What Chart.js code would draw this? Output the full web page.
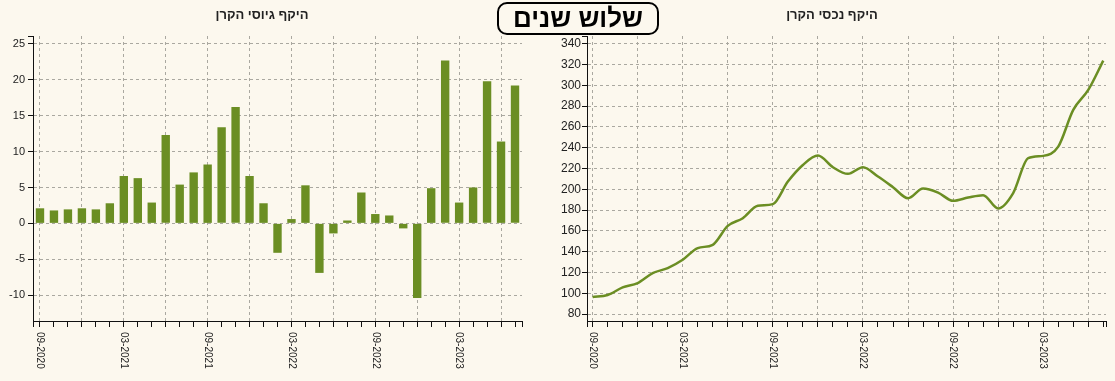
<!DOCTYPE html>
<html lang="he">
<head>
<meta charset="utf-8">
<script src="https://cdn.jsdelivr.net/npm/chart.js@4"></script>
<style>
  html, body { margin:0; padding:0; }
  body { background:#fcf8ee; width:1115px; height:381px; overflow:hidden; position:relative; font-family: Arial, "Liberation Sans", sans-serif; }
  .wrap { position:absolute; top:0; height:381px; }
  .t { position:absolute; top:6px; width:200px; text-align:center; font-weight:bold; font-size:13px; line-height:18px; color:#222; direction:rtl; }
  #box { position:absolute; left:497px; top:2px; width:158px; height:29px; line-height:29px; border:2px solid #000; border-radius:10px; background:#fcf8ee; text-align:center; font-weight:bold; font-size:26px; color:#000; direction:rtl; }
</style>
</head>
<body>
<div class="wrap" style="left:0;width:557px"><canvas id="c1" width="557" height="381"></canvas></div>
<div class="wrap" style="left:557px;width:558px"><canvas id="c2" width="558" height="381"></canvas></div>
<div class="t" style="left:162px">היקף גיוסי הקרן</div>
<div class="t" style="left:732px">היקף נכסי הקרן</div>
<div id="box">שלוש שנים</div>
<script>
// ---- data ----
const months = ['09-2020','10-2020','11-2020','12-2020','01-2021','02-2021','03-2021','04-2021','05-2021','06-2021','07-2021','08-2021',
  '09-2021','10-2021','11-2021','12-2021','01-2022','02-2022','03-2022','04-2022','05-2022','06-2022','07-2022','08-2022',
  '09-2022','10-2022','11-2022','12-2022','01-2023','02-2023','03-2023','04-2023','05-2023','06-2023','07-2023'];
const raised = [2.1, 1.8, 1.95, 2.1, 1.95, 2.8, 6.6, 6.3, 2.9, 12.3, 5.4, 7.1, 8.2, 13.4, 16.2, 6.6, 2.8, -4.1,
  0.6, 5.3, -6.9, -1.4, 0.4, 4.3, 1.3, 1.1, -0.7, -10.4, 4.9, 22.7, 2.9, 5.0, 19.8, 11.4, 19.2];
const assets = [96.3, 98.3, 105.6, 109.8, 119.4, 124.2, 132.2, 143.4, 146.6, 164.8, 172.2, 184.1, 185.7, 207.4, 223.4,
  232.4, 221.2, 214.8, 221.2, 212.2, 202, 191.4, 200.7, 196.8, 188.9, 192, 194.3, 181.5, 196.3, 229.9, 232.1, 241,
  276.3, 295.5, 323.7];
const leftYTicks = [-10, -5, 0, 5, 10, 15, 20, 25];
const rightYTicks = [80, 100, 120, 140, 160, 180, 200, 220, 240, 260, 280, 300, 320, 340];
const xLabelMonths = ['09-2020','03-2021','09-2021','03-2022','09-2022','03-2023'];
const leftYRange = [-13.6, 26.1];
const rightYRange = [73.3, 347.4];
const rightXRange = [-0.373, 34.18];

// ---- style ----
const BAR = '#6b8e23';
const LINE = '#6b8e23';
const GRID = '#aaa8a0';
const AXIS = '#111';
const TEXT = '#222';
const NONE = 'rgba(0,0,0,0)';
Chart.defaults.font.family = 'Arial, "Liberation Sans", sans-serif';

const xLabelPlugin = {
  id: 'xLabels',
  afterDraw(chart) {
    const xs = chart.scales.x;
    const ca = chart.chartArea;
    const ctx = chart.ctx;
    ctx.save();
    // outer ticks at axis ends
    ctx.strokeStyle = AXIS; ctx.lineWidth = 1;
    if (chart.config.type === 'bar') {
      [ca.left, ca.right].forEach(px => {
        const x = Math.round(px) + 0.5;
        ctx.beginPath(); ctx.moveTo(x, ca.bottom); ctx.lineTo(x, ca.bottom + 6); ctx.stroke();
      });
    }
    ctx.font = '10px Arial, "Liberation Sans", sans-serif';
    ctx.fillStyle = TEXT;
    ctx.textAlign = 'left';
    ctx.textBaseline = 'middle';
    xLabelMonths.forEach(lab => {
      const idx = months.indexOf(lab);
      const x = xs.getPixelForValue(idx);
      ctx.save();
      ctx.translate(x, ca.bottom + 11);
      ctx.rotate(Math.PI / 2);
      ctx.fillText(lab, 0, 0);
      ctx.restore();
    });
    ctx.restore();
  }
};

const common = {
  responsive: false,
  animation: false,
  devicePixelRatio: 1,
  plugins: { legend: { display: false }, tooltip: { enabled: false }, title: { display: false } },
};

new Chart(document.getElementById('c1'), {
  type: 'bar',
  data: { labels: months, datasets: [{ data: raised, backgroundColor: BAR, barPercentage: 0.6, categoryPercentage: 1 }] },
  options: Object.assign({}, common, {
    layout: { padding: { top: 36, right: 35, left: 0, bottom: 0 } },
    scales: {
      x: {
        offset: true,
        grid: { offset: false, color: c => (c.index % 3 === 0 ? GRID : NONE), tickColor: AXIS, tickLength: 6, lineWidth: 1 },
        border: { color: AXIS, width: 1, dash: [3, 3] },
        ticks: { display: false, autoSkip: false },
        afterFit: s => { s.height = 60; }
      },
      y: {
        min: leftYRange[0], max: leftYRange[1],
        afterBuildTicks: s => { s.ticks = [leftYRange[0], ...leftYTicks, leftYRange[1]].map(v => ({ value: v })); },
        grid: {
          color: c => (c.tick && leftYTicks.includes(c.tick.value) ? GRID : NONE),
          tickColor: c => (c.tick && c.tick.value === leftYRange[0] ? NONE : AXIS),
          tickLength: 5, lineWidth: 1
        },
        border: { color: AXIS, width: 1, dash: [3, 3] },
        ticks: { callback: v => (leftYTicks.includes(v) ? String(v) : ''), font: { size: 11 }, color: TEXT, padding: 3, autoSkip: false },
        afterFit: s => { s.width = 33; }
      }
    }
  }),
  plugins: [xLabelPlugin]
});

new Chart(document.getElementById('c2'), {
  type: 'line',
  data: { datasets: [{ data: assets.map((v, i) => ({ x: i, y: v })), borderColor: LINE, borderWidth: 2.5, pointRadius: 0, fill: false, cubicInterpolationMode: 'monotone' }] },
  options: Object.assign({}, common, {
    layout: { padding: { top: 36, right: 9, left: 0, bottom: 0 } },
    scales: {
      x: {
        type: 'linear', min: rightXRange[0], max: rightXRange[1],
        afterBuildTicks: s => { s.ticks = [rightXRange[0], ...months.map((m, i) => i), rightXRange[1]].map(v => ({ value: v })); },
        grid: { color: c => (c.tick && Number.isInteger(c.tick.value) && c.tick.value % 3 === 0 ? GRID : NONE), tickColor: AXIS, tickLength: 6, lineWidth: 1 },
        border: { color: AXIS, width: 1, dash: [3, 3] },
        ticks: { display: false, autoSkip: false },
        afterFit: s => { s.height = 60; }
      },
      y: {
        min: rightYRange[0], max: rightYRange[1],
        afterBuildTicks: s => { s.ticks = [rightYRange[0], ...rightYTicks, rightYRange[1]].map(v => ({ value: v })); },
        grid: {
          color: c => (c.tick && rightYTicks.includes(c.tick.value) ? GRID : NONE),
          tickColor: c => (c.tick && c.tick.value === rightYRange[0] ? NONE : AXIS),
          tickLength: 5, lineWidth: 1
        },
        border: { color: AXIS, width: 1, dash: [3, 3] },
        ticks: { callback: v => (rightYTicks.includes(v) ? String(v) : ''), font: { size: 12 }, color: TEXT, padding: 1, autoSkip: false },
        afterFit: s => { s.width = 30; }
      }
    }
  }),
  plugins: [xLabelPlugin]
});
</script>
</body>
</html>
